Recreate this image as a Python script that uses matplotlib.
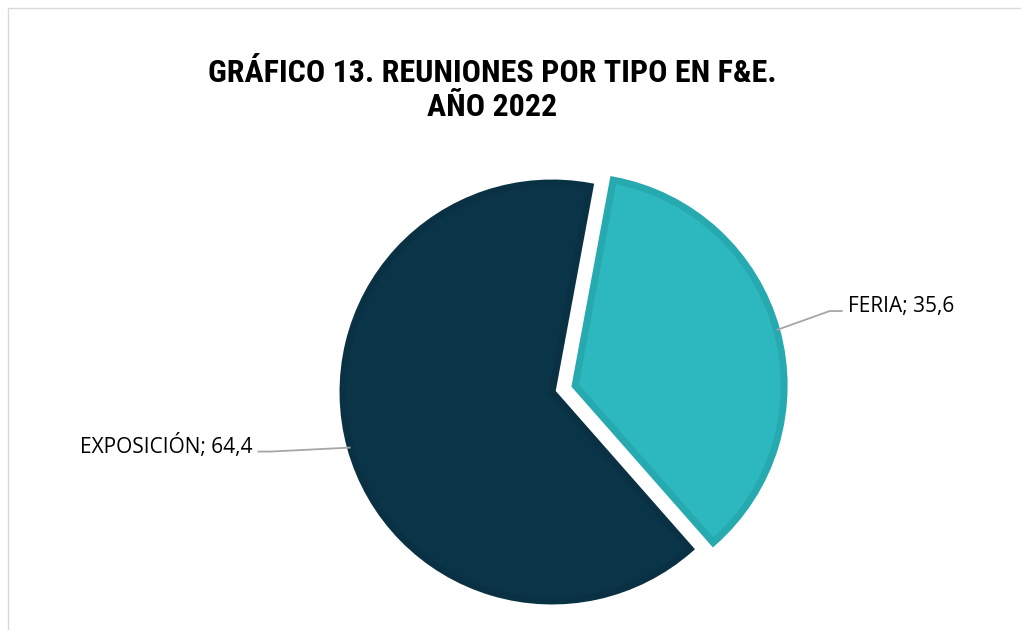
"""
Pie chart: reuniones por tipo en F&E, año 2022.
Two slices, FERIA pulled out from the pie, labels with leader lines.
"""
import numpy as np
import matplotlib
matplotlib.use("Agg")
import matplotlib.pyplot as plt
from matplotlib import font_manager

# ---- Data ----------------------------------------------------------------
categories = ["FERIA", "EXPOSICIÓN"]
values = [35.6, 64.4]
value_labels = ["35,6", "64,4"]

# ---- Style ---------------------------------------------------------------
FILL_COLORS = ["#2db7be", "#0a3548"]
EDGE_COLORS = ["#27a9b0", "#0a3143"]
W, H = 1021, 630


def pick_font(names):
    """Return the first installed family from names."""
    installed = {f.name for f in font_manager.fontManager.ttflist}
    for n in names:
        if n in installed:
            return n
    return "DejaVu Sans"


TITLE_FONT = pick_font(["Liberation Sans Narrow", "Roboto Condensed", "Roboto"])
LABEL_FONT = pick_font(["Open Sans", "Noto Sans"])

fig = plt.figure(figsize=(W / 100, H / 100), dpi=100)
ax = fig.add_axes([0, 0, 1, 1])

# light frame around the chart area
ax.plot([8, 8, W + 5], [-5, H - 8, H - 8], color="#d9d9d9", lw=1.0)

center = (552, H - 392)
radius = 209
# explode is in data units here (pixels), not a fraction of the radius
wedges, _ = ax.pie(
    values,
    colors=FILL_COLORS,
    startangle=79.5,
    counterclock=False,
    explode=[24, 0],
    center=center,
    radius=radius,
    wedgeprops=dict(linewidth=5, joinstyle="miter"),
    frame=True,
)
for w, ec in zip(wedges, EDGE_COLORS):
    w.set_edgecolor(ec)
ax.set_xlim(0, W)
ax.set_ylim(0, H)
ax.set_aspect("equal")
ax.axis("off")

# ---- Labels with leader lines -------------------------------------------
for i, w in enumerate(wedges):
    mid = np.deg2rad((w.theta1 + w.theta2) / 2)
    cx, cy = w.center
    anchor = (cx + w.r * np.cos(mid), cy + w.r * np.sin(mid))
    side = 1 if np.cos(mid) > 0 else -1
    if side > 0:
        elbow = (anchor[0] + 53, anchor[1] + 19)
    else:
        elbow = (anchor[0] - 80, anchor[1] - 4)
    end = (elbow[0] + side * 13, elbow[1])
    ax.plot([anchor[0], elbow[0], end[0]], [anchor[1], elbow[1], end[1]],
            color="#a6a6a6", lw=1.3, solid_capstyle="butt")
    ax.text(end[0] + side * 5, end[1] - 1, f"{categories[i]}; {value_labels[i]}",
            ha="left" if side > 0 else "right", va="baseline",
            fontsize=15, family=LABEL_FONT, color="#000000")

ax.text(492, H - 73, "GRÁFICO 13. REUNIONES POR TIPO EN F&E.",
        ha="center", va="center", fontsize=23, fontweight="bold",
        family=TITLE_FONT, color="#000000")
ax.text(492, H - 107, "AÑO 2022",
        ha="center", va="center", fontsize=23, fontweight="bold",
        family=TITLE_FONT, color="#000000")

fig.savefig("out.png", dpi=100)
